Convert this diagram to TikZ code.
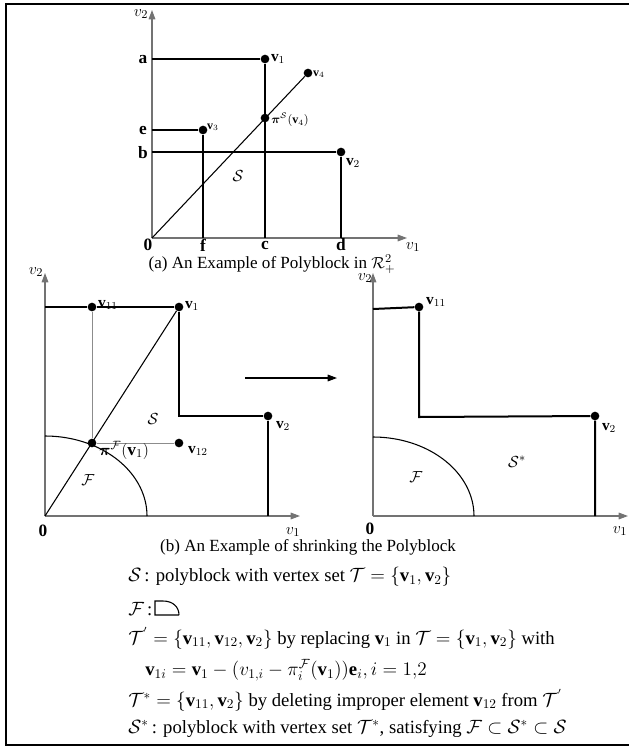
\documentclass[tikz,border=0pt,12pt]{standalone}
\usepackage{amsmath,amssymb}
\usepackage{fontspec}
\setmainfont{Liberation Serif}
\usepackage{tikz}
\usetikzlibrary{arrows.meta}
\tikzset{
  dot/.style    ={circle,fill=black,inner sep=0pt,minimum size=6.5pt},
  axis/.style   ={draw=black!55,line width=0.8pt},
  blk/.style    ={draw=black,line width=1.5pt},
  thn/.style    ={draw=black,line width=0.8pt},
  guide/.style  ={draw=black!45,line width=0.7pt},
  lbl/.style    ={font=\fontsize{11.5}{13}\selectfont,inner sep=0pt},
  sml/.style    ={font=\fontsize{9}{11}\selectfont,inner sep=0pt},
  ax/.style     ={font=\fontsize{13}{15}\selectfont,inner sep=0pt},
  captxt/.style ={font=\fontsize{12.8}{15}\selectfont,inner sep=0pt},
  txt/.style    ={anchor=west,inner sep=0pt,font=\fontsize{14}{16}\selectfont},
}

\begin{document}
\begin{tikzpicture}[
  >={Triangle[length=7pt,width=5pt]},
  x=0.75pt, y=-0.75pt,
]
\useasboundingbox (0,0) rectangle (629,747);

%% ---------------- frame ----------------
\draw[line width=1.2pt] (629,4) -- (6,4) -- (6,745) -- (629,745);

%% ================= (a) polyblock in R^2_+ =================
\coordinate (oA) at (152,238);
\coordinate (yA) at (152,10);
\coordinate (xA) at (407,238);
\draw[axis,->] (oA) -- (yA);
\draw[axis,->] (oA) -- (xA);

\node[dot] (v1) at (265,59)  {};
\node[dot] (v2) at (341,152) {};
\node[dot] (v3) at (203,130) {};
\node[dot] (v4) at (308,73)  {};
\node[dot] (pS) at (265,118) {};

\coordinate (ya) at (152,59);
\coordinate (ye) at (152,130);
\coordinate (yb) at (152,152);
\coordinate (xf) at (203,238);
\coordinate (xc) at (265,238);
\coordinate (xd) at (341,238);
\coordinate (cb) at (265,152);

\draw[blk] (ya) -- (v1) -- (cb) -- (v2) -- (xd);
\draw[thn] (yb) -- (cb) -- (xc);
\draw[thn] (ye) -- (v3) -- (xf);
\draw[thn] (oA) -- (v4);

\node[ax] (la) at (143,60)  {$\mathbf{a}$};
\node[ax] (le) at (143,131) {$\mathbf{e}$};
\node[ax] (lb) at (143,153) {$\mathbf{b}$};
\node[ax] (l0) at (148,245) {$\mathbf{0}$};
\node[ax] (lf) at (203,245) {$\mathbf{f}$};
\node[ax] (lc) at (265,245) {$\mathbf{c}$};
\node[ax] (ld) at (341,245) {$\mathbf{d}$};
\node[ax] (ay) at (141,14)  {$v_2$};
\node[ax] (ax) at (413,247) {$v_1$};

\node[lbl] (lv1) at (278,59)  {$\mathbf{v}_1$};
\node[sml] (lv4) at (319,74)  {$\mathbf{v}_4$};
\node[sml] (lv3) at (213,127) {$\mathbf{v}_3$};
\node[lbl] (lv2) at (353,163) {$\mathbf{v}_2$};
\node[sml] (lpS) at (290,120) {$\boldsymbol{\pi}^{\mathcal{S}}(\mathbf{v}_4)$};
\node[ax]  (lS)  at (238,176) {$\mathcal{S}$};

\node[captxt] (capA) at (272,264) {(a) An Example of Polyblock in $\mathcal{R}_{+}^{2}$};

%% ================= (b) shrinking, before =================
\coordinate (oB) at (45,516);
\coordinate (yB) at (45,273);
\coordinate (xB) at (300,516);
\draw[axis,->] (oB) -- (yB);
\draw[axis,->] (oB) -- (xB);

\node[dot] (w1)  at (179,307) {};
\node[dot] (w11) at (92,307)  {};
\node[dot] (w2)  at (268,416) {};
\node[dot] (w12) at (179,443) {};
\node[dot] (pF)  at (92,443)  {};

\coordinate (yaB) at (45,307);
\coordinate (cB)  at (179,416);
\coordinate (xdB) at (268,516);

\draw[blk] (yaB) -- (w11) -- (w1) -- (cB) -- (w2) -- (xdB);
\draw[thn] (oB) -- (w1);
\draw[guide] (w11) -- (pF) -- (w12);
\draw[thn] plot[domain=0:90,samples=40] ({45+102*cos(\x)},{516-80*sin(\x)});

\node[lbl] (lw11) at (108,305) {$\mathbf{v}_{11}$};
\node[lbl] (lw1)  at (192,306) {$\mathbf{v}_1$};
\node[lbl] (lw2)  at (283,426) {$\mathbf{v}_2$};
\node[lbl] (lw12) at (198,451) {$\mathbf{v}_{12}$};
\node[ax]  (lpF)  at (124,450) {$\boldsymbol{\pi}^{\mathcal{F}}(\mathbf{v}_1)$};
\node[ax]  (lSB)  at (153,419) {$\mathcal{S}$};
\node[ax]  (lFB)  at (88,480)  {$\mathcal{F}$};
\node[ax]  (l0B)  at (43,531)  {$\mathbf{0}$};
\node[ax]  (ayB)  at (36,272)  {$v_2$};
\node[ax]  (axB)  at (293,532) {$v_1$};

%% arrow between the two stages
\coordinate (arL) at (245,378);
\coordinate (arR) at (337,378);
\draw[thn,->] (arL) -- (arR);

%% ================= (b) shrinking, after =================
\coordinate (oC) at (373,516);
\coordinate (yC) at (373,273);
\coordinate (xC) at (628,516);
\draw[axis,->] (oC) -- (yC);
\draw[axis,->] (oC) -- (xC);

\node[dot] (u11) at (419,307) {};
\node[dot] (u2)  at (595,416) {};

\coordinate (yaC) at (373,309);
\coordinate (cC)  at (419,417);
\coordinate (xdC) at (595,516);

\draw[blk] (yaC) -- (u11) -- (cC) -- (u2) -- (xdC);
\draw[thn] plot[domain=0:90,samples=40] ({373+101*cos(\x)},{516-79*sin(\x)});

\node[lbl] (lu11) at (436,302) {$\mathbf{v}_{11}$};
\node[lbl] (lu2)  at (609,428) {$\mathbf{v}_2$};
\node[ax]  (lFC)  at (416,477) {$\mathcal{F}$};
\node[ax]  (lSC)  at (517,462) {$\mathcal{S}^{*}$};
\node[ax]  (l0C)  at (370,529) {$\mathbf{0}$};
\node[ax]  (ayC)  at (365,278) {$v_2$};
\node[ax]  (axC)  at (620,531) {$v_1$};

\node[captxt] (capB) at (308,547) {(b) An Example of shrinking the Polyblock};

%% ================= legend =================
\node[txt] (t1) at (128,577) {$\mathcal{S}$\,: polyblock with vertex set $\mathcal{T}=\{\mathbf{v}_1,\mathbf{v}_2\}$};
\node[txt] (t2) at (128,609) {$\mathcal{F}$\,:};
\draw[thn] (179,615) -- (155,615) -- (155,601) -- (163,601)
  .. controls (173,601) and (179,607) .. (179,615);
\node[txt] (t3) at (128,638) {$\mathcal{T}^{'}=\{\mathbf{v}_{11},\mathbf{v}_{12},\mathbf{v}_2\}$ by replacing $\mathbf{v}_1$ in $\mathcal{T}=\{\mathbf{v}_1,\mathbf{v}_2\}$ with};
\node[txt] (t4) at (145,670) {$\mathbf{v}_{1i}=\mathbf{v}_1-(v_{1,i}-\pi_i^{\mathcal{F}}(\mathbf{v}_1))\mathbf{e}_i, i=1{,}2$};
\node[txt] (t5) at (128,700) {$\mathcal{T}^{*}=\{\mathbf{v}_{11},\mathbf{v}_2\}$ by deleting improper element $\mathbf{v}_{12}$ from $\mathcal{T}^{'}$};
\node[txt] (t6) at (128,729) {$\mathcal{S}^{*}$\,: polyblock with vertex set $\mathcal{T}^{*}$, satisfying $\mathcal{F}\subset\mathcal{S}^{*}\subset\mathcal{S}$};

\end{tikzpicture}
\end{document}
